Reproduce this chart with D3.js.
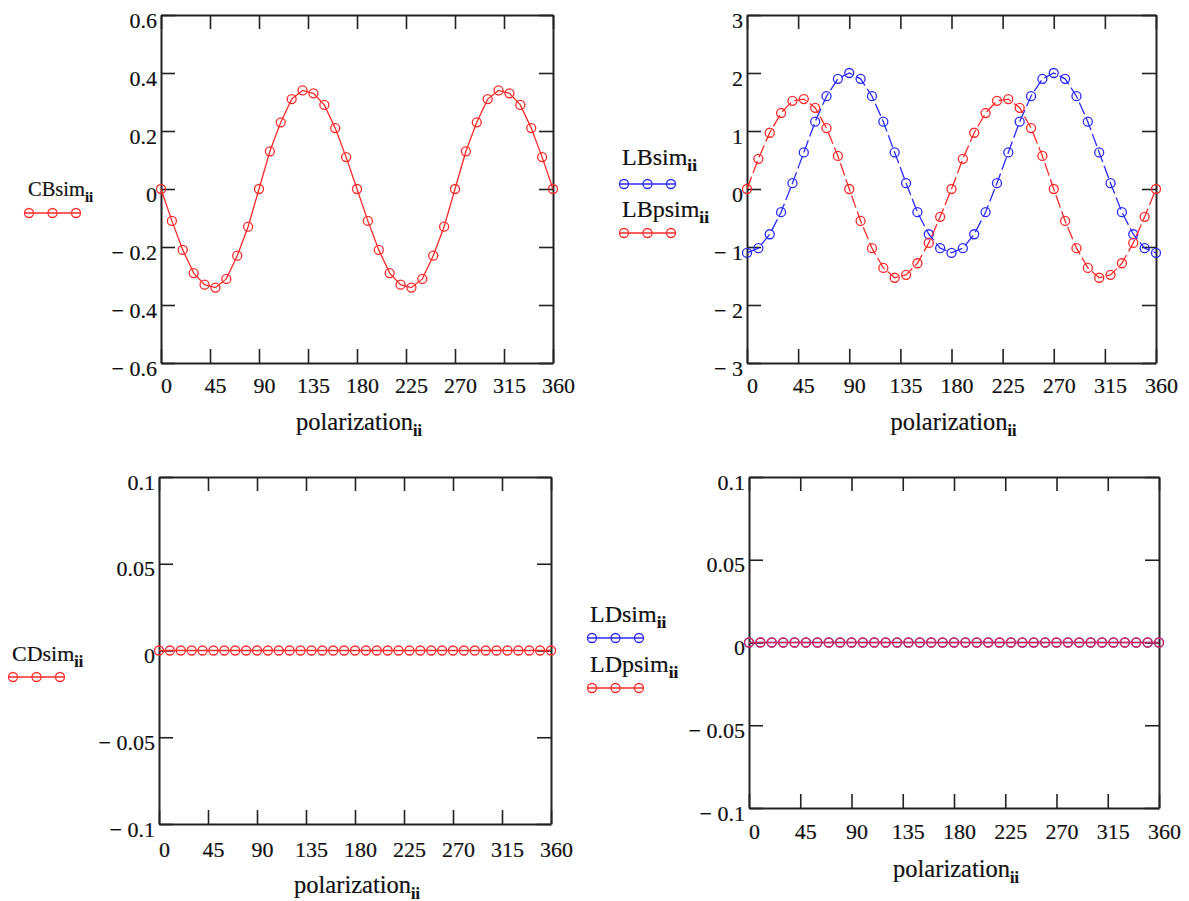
<!DOCTYPE html>
<html>
<head>
<meta charset="utf-8">
<script src="https://cdn.jsdelivr.net/npm/d3@7"></script>
<style>
  html, body { margin: 0; padding: 0; background: #fff; }
  svg { display: block; }
  text { font-family: "Liberation Serif", "Times New Roman", Times, serif; fill: #111; stroke: #111; stroke-width: 0.2px; }
</style>
</head>
<body>
<svg id="chart" width="1189" height="901"></svg>
<script>
// ---------------- data ----------------
const polarization = [0,10,20,30,40,50,60,70,80,90,100,110,120,130,140,150,160,170,180,
  190,200,210,220,230,240,250,260,270,280,290,300,310,320,330,340,350,360];

const CBsim = [0,-0.11,-0.21,-0.29,-0.33,-0.34,-0.31,-0.23,-0.13,0,0.13,0.23,0.31,0.34,0.33,0.29,0.21,0.11,0,
  -0.11,-0.21,-0.29,-0.33,-0.34,-0.31,-0.23,-0.13,0,0.13,0.23,0.31,0.34,0.33,0.29,0.21,0.11,0];

const LBsim = [-1.1,-1.02,-0.78,-0.4,0.1,0.63,1.16,1.6,1.9,2.0,1.9,1.6,1.16,0.63,0.1,-0.4,-0.78,-1.02,-1.1,
  -1.02,-0.78,-0.4,0.1,0.63,1.16,1.6,1.9,2.0,1.9,1.6,1.16,0.63,0.1,-0.4,-0.78,-1.02,-1.1];

const LBpsim = [0,0.52,0.97,1.31,1.52,1.55,1.4,1.05,0.57,0,-0.55,-1.02,-1.36,-1.53,-1.48,-1.28,-0.93,-0.48,0,
  0.52,0.97,1.31,1.52,1.55,1.4,1.05,0.57,0,-0.55,-1.02,-1.36,-1.53,-1.48,-1.28,-0.93,-0.48,0];

const CDsim  = [0,0,0,0,0,0,0,0,0,0,0,0,0,0,0,0,0,0,0,0,0,0,0,0,0,0,0,0,0,0,0,0,0,0,0,0,0];
const LDsim  = [0,0,0,0,0,0,0,0,0,0,0,0,0,0,0,0,0,0,0,0,0,0,0,0,0,0,0,0,0,0,0,0,0,0,0,0,0];
const LDpsim = [0,0,0,0,0,0,0,0,0,0,0,0,0,0,0,0,0,0,0,0,0,0,0,0,0,0,0,0,0,0,0,0,0,0,0,0,0];

const xTicks = [0,45,90,135,180,225,270,315,360];
const yTicksCB = [-0.6,-0.4,-0.2,0,0.2,0.4,0.6];
const yLabelsCB = ["\u2212 0.6","\u2212 0.4","\u2212 0.2","0","0.2","0.4","0.6"];
const yTicksLB = [-3,-2,-1,0,1,2,3];
const yLabelsLB = ["\u2212 3","\u2212 2","\u2212 1","0","1","2","3"];
const yTicksD = [-0.1,-0.05,0,0.05,0.1];
const yLabelsD = ["\u2212 0.1","\u2212 0.05","0","0.05","0.1"];

const xLabel = "polarization";
const subscript = "ii";

// ---------------- layout ----------------
const svg = d3.select("#chart");

const panels = [
  { box: {l:161, r:553, t:15, b:363}, domain:[-0.6,0.6], yTicks:yTicksCB, yLabels:yLabelsCB,
    xlabBase: 30, titleBase: 430,
    series: [{name:"CBsim", values:CBsim, color:"#ff2a2a", dash:null}],
    legend: {x:28, y:196, fs:20.5, sym:[{y:213, x0:29}], gap:0} },
  { box: {l:747, r:1156, t:15, b:363}, domain:[-3,3], yTicks:yTicksLB, yLabels:yLabelsLB,
    xlabBase: 30, titleBase: 430,
    series: [{name:"LBsim", values:LBsim, color:"#2a2aff", dash:"13,4"},
             {name:"LBpsim", values:LBpsim, color:"#ff2a2a", dash:"13,4"}],
    legend: {x:622, y:165, fs:24, sym:[{y:184, x0:624},{y:233, x0:624}], gap:52} },
  { box: {l:159, r:551, t:477, b:824}, domain:[-0.1,0.1], yTicks:yTicksD, yLabels:yLabelsD,
    xlabBase: 33, titleBase: 893,
    series: [{name:"CDsim", values:CDsim, color:"#ff2a2a", dash:null}],
    legend: {x:12, y:661, fs:22, sym:[{y:677, x0:13}], gap:0} },
  { box: {l:749, r:1159, t:477, b:808}, domain:[-0.1,0.1], yTicks:yTicksD, yLabels:yLabelsD,
    xlabBase: 31, titleBase: 877,
    series: [{name:"LDsim", values:LDsim, color:"#2a2aff", dash:null},
             {name:"LDpsim", values:LDpsim, color:"#ff2a2a", dash:null, opacity:0.8}],
    legend: {x:590, y:622, fs:24, sym:[{y:638, x0:592},{y:688, x0:592}], gap:50} }
];

const R = 4.5;
const TICK = 14;

panels.forEach(p => {
  const b = p.box;
  const x = d3.scaleLinear().domain([0,360]).range([b.l, b.r]);
  const y = d3.scaleLinear().domain(p.domain).range([b.b, b.t]);
  const g = svg.append("g");

  // axes (inward ticks)
  const axB = g.append("g").attr("transform", `translate(0,${b.b})`)
    .call(d3.axisBottom(x).tickValues(xTicks).tickSize(-TICK).tickSizeOuter(0).tickFormat(d3.format("d")));
  const axT = g.append("g").attr("transform", `translate(0,${b.t})`)
    .call(d3.axisTop(x).tickValues(xTicks).tickSize(-TICK).tickSizeOuter(0).tickFormat(""));
  const axL = g.append("g").attr("transform", `translate(${b.l},0)`)
    .call(d3.axisLeft(y).tickValues(p.yTicks).tickSize(-TICK).tickSizeOuter(0)
      .tickFormat((d,i) => p.yLabels[i]));
  const axR = g.append("g").attr("transform", `translate(${b.r},0)`)
    .call(d3.axisRight(y).tickValues(p.yTicks).tickSize(-TICK).tickSizeOuter(0).tickFormat(""));

  [axB, axT, axL, axR].forEach(a => {
    a.select(".domain").attr("stroke", "#222").attr("stroke-width", 2);
    a.selectAll(".tick line").attr("stroke", "#222").attr("stroke-width", 1.6);
  });

  axB.selectAll(".tick text")
    .attr("font-size", 22).attr("y", p.xlabBase).attr("dy", 0).attr("dx", 5);
  axL.selectAll(".tick text")
    .attr("font-size", 22).attr("x", -4).attr("dy", 0).attr("y", 12);

  // x axis title
  const t = g.append("text")
    .attr("x", (b.l + b.r) / 2 + 2).attr("y", p.titleBase)
    .attr("text-anchor", "middle").attr("font-size", 24.5);
  t.append("tspan").text(xLabel);
  t.append("tspan").attr("font-size", 16).attr("font-weight", "bold").attr("dy", 6).text(subscript);

  // series
  const line = d3.line().x((d,i) => x(polarization[i])).y(d => y(d));
  p.series.forEach(s => {
    const sg = g.append("g").attr("opacity", s.opacity || 1);
    sg.append("path").datum(s.values)
      .attr("d", line).attr("fill", "none").attr("stroke", s.color).attr("stroke-width", 1.3)
      .attr("stroke-dasharray", s.dash);
    sg.selectAll("circle").data(s.values).join("circle")
      .attr("cx", (d,i) => x(polarization[i])).attr("cy", d => y(d)).attr("r", R)
      .attr("fill", "none").attr("stroke", s.color).attr("stroke-width", 1.3);
  });

  // legend
  p.series.forEach((s, k) => {
    const lg = p.legend;
    const ty = lg.y + k * lg.gap;
    const lt = g.append("text").attr("x", lg.x).attr("y", ty).attr("font-size", lg.fs);
    lt.append("tspan").text(s.name);
    lt.append("tspan").attr("font-size", lg.fs * 0.72).attr("font-weight", "bold").attr("dy", 6).text(subscript);
    const sy = lg.sym[k].y, x0 = lg.sym[k].x0;
    const sgp = g.append("g");
    sgp.append("line").attr("x1", x0 - 5).attr("x2", x0 + 52).attr("y1", sy).attr("y2", sy)
      .attr("stroke", s.color).attr("stroke-width", 1.3);
    [0, 1, 2].forEach(j => {
      sgp.append("circle").attr("cx", x0 + j * 23.5).attr("cy", sy).attr("r", R)
        .attr("fill", "none").attr("stroke", s.color).attr("stroke-width", 1.3);
    });
  });
});
</script>
</body>
</html>
